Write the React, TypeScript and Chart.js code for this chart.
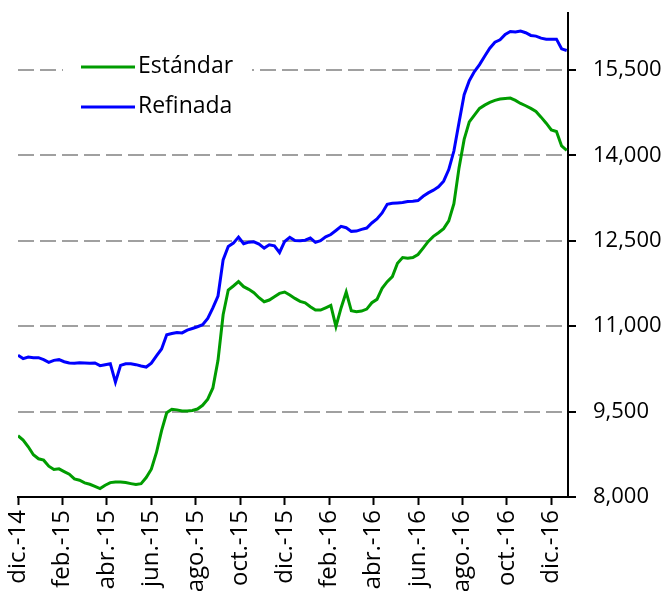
import React, { useEffect, useRef } from 'react';
import { Chart, registerables } from 'chart.js';

Chart.register(...registerables);

// Bi-monthly tick labels (month 0 = dic.-14)
const tickLabels = ['dic.-14', 'feb.-15', 'abr.-15', 'jun.-15', 'ago.-15', 'oct.-15', 'dic.-15', 'feb.-16', 'abr.-16', 'jun.-16', 'ago.-16', 'oct.-16', 'dic.-16'];
const yTicks = [8000, 9500, 11000, 12500, 14000, 15500];
const seriesNames = ['Estándar', 'Refinada'];

// Weekly prices, starting first week of dic.-14
const estandar = [
  9076, 9000, 8882, 8741, 8671, 8647, 8541, 8482, 8494, 8447,
  8400, 8318, 8294, 8247, 8224, 8188, 8147, 8206, 8253, 8265,
  8265, 8253, 8235, 8218, 8235, 8341, 8488, 8782, 9165, 9480,
  9540, 9530, 9512, 9510, 9520, 9545, 9610, 9718, 9915, 10400,
  11200, 11635, 11706, 11782, 11694, 11647, 11588, 11500, 11429, 11459,
  11518, 11576, 11600, 11547, 11488, 11435, 11410, 11341, 11282, 11282,
  11323, 11365, 10994, 11320, 11600, 11270, 11253, 11265, 11300, 11412,
  11471, 11665, 11782, 11871, 12106, 12206, 12194, 12206, 12259, 12371,
  12488, 12577, 12641, 12712, 12850, 13150, 13780, 14280, 14588, 14706,
  14824, 14882, 14929, 14965, 14988, 15000, 15006, 14965, 14912, 14871,
  14824, 14771, 14671, 14565, 14447, 14418, 14165, 14088,
];

const refinada = [
  10488, 10430, 10459, 10447, 10447, 10412, 10365, 10400, 10412, 10376,
  10353, 10347, 10359, 10353, 10347, 10353, 10306, 10324, 10341, 10018,
  10312, 10341, 10341, 10324, 10300, 10282, 10350, 10480, 10600, 10850,
  10871, 10890, 10882, 10930, 10960, 10990, 11025, 11135, 11320, 11529,
  12165, 12400, 12459, 12565, 12447, 12476, 12482, 12441, 12371, 12429,
  12412, 12294, 12488, 12559, 12506, 12500, 12510, 12547, 12471, 12500,
  12570, 12610, 12680, 12753, 12729, 12665, 12670, 12700, 12723, 12812,
  12882, 12988, 13141, 13159, 13165, 13171, 13188, 13194, 13206, 13282,
  13341, 13388, 13447, 13547, 13750, 14076, 14576, 15065, 15312, 15471,
  15594, 15741, 15882, 15988, 16029, 16124, 16176, 16165, 16182, 16153,
  16106, 16094, 16059, 16041, 16041, 16041, 15871, 15841,
];

const GREEN = '#009C00';
const BLUE = '#0000FF';
const FONT = "'Open Sans', sans-serif";

// week index -> months since dic.-14
const toMonths = (i: number) => (i * 12) / 52;

const legendPlugin = {
  id: 'insideLegend',
  afterDraw(chart: any) {
    const ctx = chart.ctx as CanvasRenderingContext2D;
    ctx.save();
    ctx.fillStyle = '#ffffff';
    ctx.fillRect(63, 45, 189, 80);
    const items = [
      { label: seriesNames[0], color: GREEN, y: 67 },
      { label: seriesNames[1], color: BLUE, y: 107 },
    ];
    ctx.font = `23px ${FONT}`;
    ctx.textBaseline = 'middle';
    ctx.textAlign = 'left';
    for (const it of items) {
      ctx.strokeStyle = it.color;
      ctx.lineWidth = 3;
      ctx.beginPath();
      ctx.moveTo(81, it.y);
      ctx.lineTo(135, it.y);
      ctx.stroke();
      ctx.fillStyle = '#000000';
      ctx.fillText(it.label, 138, it.y - 1);
    }
    ctx.restore();
  },
};

export default function App() {
  const canvasRef = useRef<HTMLCanvasElement | null>(null);

  useEffect(() => {
    document.body.style.margin = '0';
    const canvas = canvasRef.current;
    if (!canvas) return;
    const chart = new Chart(canvas, {
      type: 'line',
      data: {
        datasets: [
          {
            label: seriesNames[0],
            data: estandar.map((v, i) => ({ x: toMonths(i), y: v })),
            borderColor: GREEN,
            borderWidth: 3,
            pointRadius: 0,
            tension: 0,
            fill: false,
          },
          {
            label: seriesNames[1],
            data: refinada.map((v, i) => ({ x: toMonths(i), y: v })),
            borderColor: BLUE,
            borderWidth: 3,
            pointRadius: 0,
            tension: 0,
            fill: false,
          },
        ],
      },
      options: {
        animation: false,
        responsive: false,
        maintainAspectRatio: false,
        layout: { padding: { left: 18, top: 13, right: 0, bottom: 0 } },
        plugins: {
          legend: { display: false },
          tooltip: { enabled: false },
        },
        scales: {
          x: {
            type: 'linear',
            min: 0,
            max: 24.75,
            afterBuildTicks: (scale: any) => {
              scale.ticks = tickLabels.map((_, i) => ({ value: i * 2 }));
            },
            afterFit: (scale: any) => {
              scale.height = 94;
              scale.paddingLeft = 0;
              scale.paddingRight = 0;
            },
            ticks: {
              autoSkip: false,
              minRotation: 90,
              maxRotation: 90,
              padding: 5,
              color: '#000000',
              font: { family: FONT, size: 24 },
              callback: (value: any) => {
                const idx = Math.round(Number(value) / 2);
                return tickLabels[idx] ?? '';
              },
            },
            grid: {
              drawOnChartArea: false,
              drawTicks: true,
              tickLength: 8,
              tickColor: '#000000',
              tickWidth: 2,
            },
            border: { display: true, color: '#000000', width: 2 },
          },
          y: {
            type: 'linear',
            position: 'right',
            min: 8000,
            max: 16500,
            afterBuildTicks: (scale: any) => {
              scale.ticks = yTicks.map((v) => ({ value: v }));
            },
            afterFit: (scale: any) => {
              scale.width = 102;
              scale.paddingTop = 0;
              scale.paddingBottom = 0;
            },
            ticks: {
              padding: 17,
              color: '#000000',
              font: { family: FONT, size: 22 },
              callback: (value: any) => Number(value).toLocaleString('en-US'),
            },
            grid: {
              drawOnChartArea: true,
              drawTicks: true,
              tickLength: 8,
              lineWidth: 2,
              tickWidth: 2,
              tickColor: '#000000',
              color: (ctx: any) => (ctx.tick && ctx.tick.value === 8000 ? 'rgba(0,0,0,0)' : '#A0A0A0'),
            },
            border: { display: true, color: '#000000', width: 2, dash: [16, 6] },
          },
        },
      },
      plugins: [legendPlugin],
    });
    return () => chart.destroy();
  }, []);

  return (
    <div style={{ position: 'absolute', left: 0, top: 0, width: 670, height: 591, background: '#ffffff' }}>
      <canvas ref={canvasRef} width={670} height={591} />
    </div>
  );
}
